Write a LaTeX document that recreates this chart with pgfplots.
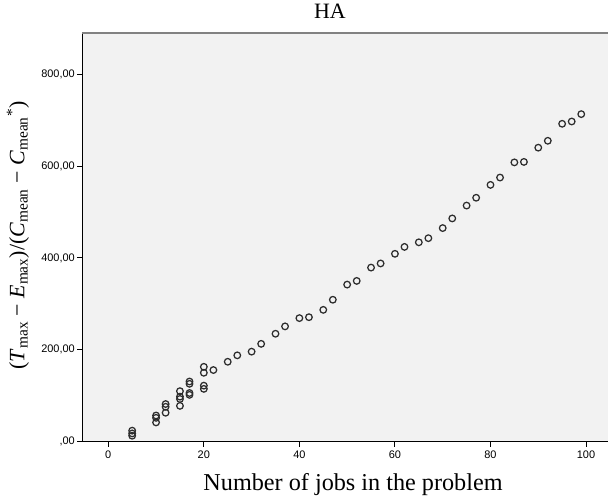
\documentclass[border=0pt]{standalone}
\usepackage{fontspec}
\setmainfont{Liberation Serif}
\newfontfamily\arial{Liberation Sans}
\usepackage{pgfplots}
\pgfplotsset{compat=1.18}
\definecolor{bgc}{RGB}{242,242,242}
\definecolor{mk}{RGB}{45,45,45}
\definecolor{topc}{RGB}{130,130,130}
\begin{document}
\begin{tikzpicture}[x=1bp,y=1bp]
\begin{axis}[
  at={(0,0)}, anchor=south west,
  scale only axis,
  width=525.7bp, height=408.4bp,
  xmin=-5.44, xmax=104.6,
  ymin=0, ymax=889,
  axis lines=left,
  axis line style={-, line width=1.3bp, black},
  axis background/.style={fill=bgc},
  xtick={0,20,40,60,80,100},
  xticklabels={0,20,40,60,80,100},
  ytick={0,200,400,600,800},
  yticklabels={{,00},{200,00},{400,00},{600,00},{800,00}},
  tick align=outside,
  major tick length=5bp,
  tick style={line width=1bp, black},
  ticklabel style={font=\arial\fontsize{11}{13}\selectfont, text=black},
  xticklabel style={yshift=-1bp},
  yticklabel style={xshift=1bp},
  xlabel={Number of jobs in the problem},
  xlabel style={font=\fontsize{24.3}{28}\selectfont, at={(axis description cs:0.515,0)}, anchor=center, yshift=-42.5bp},
  ylabel={(\textit{T}\textsubscript{max} − \textit{E}\textsubscript{max})/(\textit{C}\textsubscript{mean} − \textit{C}\textsubscript{mean}\textsuperscript{*})},
  ylabel style={font=\fontsize{22}{26}\selectfont, at={(axis description cs:-0.1223,0.505)}, anchor=center},
  title={HA},
  title style={font=\fontsize{22}{26}\selectfont, at={(axis description cs:0.471,1)}, anchor=center, yshift=16.3bp},
  clip=false,
  after end axis/.code={
    \draw[topc, line width=1.8bp] (rel axis cs:0,1) -- (rel axis cs:1.02,1);
  },
]
\addplot[only marks, mark=o, mark size=3.3bp, mark options={draw=mk, line width=1.25bp}] coordinates {
(5,13) (5,18) (5,24)
(10,42) (10,52) (10,57)
(12,63) (12,76) (12,82)
(15,78) (15,93) (15,98) (15,110)
(17,102) (17,106) (17,126) (17,131)
(20,115) (20,122) (20,150) (20,163)
(22,156) (25,174) (27,188) (30,196) (32,213) (35,235) (37,251)
(40,269) (42,271) (45,287) (47,309) (50,342) (52,350) (55,379) (57,388)
(60,409) (62,424) (65,434) (67,443) (70,465) (72,486) (75,514) (77,531)
(80,559) (82,575) (85,608) (87,609) (90,640) (92,655) (95,692) (97,697) (99,713)
};
\end{axis}
\pgfresetboundingbox
\useasboundingbox (-82.3,-55.3) rectangle (525.7,441.7);
\end{tikzpicture}
\end{document}
